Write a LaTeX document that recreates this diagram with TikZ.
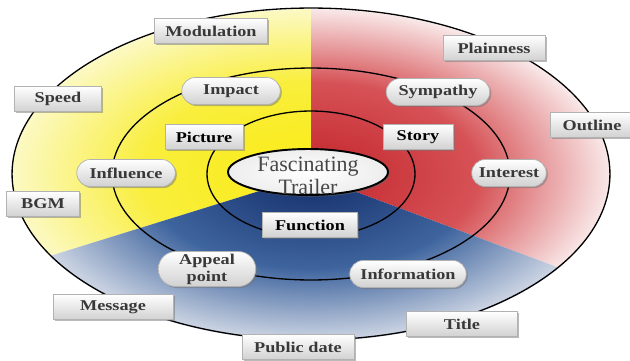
\documentclass[tikz,border=0pt]{standalone}
\usepackage{fontspec}
\setmainfont{Liberation Serif}
\newfontfamily\tagfont[FakeStretch=1.22]{Liberation Serif}
\usetikzlibrary{shapes.geometric,shapes.misc,shadows}

\definecolor{ylwIn}{RGB}{250,236,20}
\definecolor{ylwMid}{RGB}{249,238,60}
\definecolor{ylwOut}{RGB}{252,249,196}
\definecolor{redIn}{RGB}{194,36,42}
\definecolor{redMid}{RGB}{214,82,86}
\definecolor{redOut}{RGB}{249,232,232}
\definecolor{bluIn}{RGB}{18,44,104}
\definecolor{bluMid}{RGB}{62,100,158}
\definecolor{bluOut}{RGB}{206,214,228}

\pgfdeclareradialshading{ylwfade}{\pgfpoint{0bp}{0bp}}{color(0bp)=(ylwIn); color(14bp)=(ylwMid); color(25bp)=(ylwOut); color(50bp)=(ylwOut)}
\pgfdeclareradialshading{redfade}{\pgfpoint{0bp}{0bp}}{color(0bp)=(redIn); color(14bp)=(redMid); color(25bp)=(redOut); color(50bp)=(redOut)}
\pgfdeclareradialshading{blufade}{\pgfpoint{0bp}{0bp}}{color(0bp)=(bluIn); color(14bp)=(bluMid); color(25bp)=(bluOut); color(50bp)=(bluOut)}

\begin{document}
\begin{tikzpicture}[
    x=0.02cm, y=-0.02cm,
    ring/.style={draw=black, line width=0.75pt},
    box/.style={
        draw=black!30,
        top color=white,
        bottom color=black!18,
        minimum height=0.5cm,
        inner sep=1pt,
        text=black!78,
        font=\tagfont\bfseries\fontsize{8.5}{9.6}\selectfont,
        align=center,
        drop shadow={shadow xshift=0.9pt, shadow yshift=-0.9pt, fill=black!55, opacity=0.5}
    },
    pill/.style={box, rounded rectangle, minimum height=0.54cm},
    key/.style={box, text=black},
    hub/.style={
        ellipse,
        draw=black,
        line width=1.1pt,
        inner color=white,
        outer color=black!7,
        minimum width=3.2cm,
        minimum height=0.92cm,
        drop shadow={shadow xshift=1pt, shadow yshift=-1pt, fill=black!60, opacity=0.5}
    },
    hubtext/.style={
        align=center,
        inner sep=0pt,
        text=black!72,
        font=\fontsize{12.5}{13}\selectfont
    }
]
    \useasboundingbox (0,0) rectangle (630,360);
    \coordinate (c) at (311,175);

    \begin{scope}
        \clip (c) -- (311,-20) -- (-50,-20) -- (-50,287) -- cycle;
        \shade[shading=ylwfade] (c) ellipse [x radius=5.98cm, y radius=3.32cm];
    \end{scope}
    \begin{scope}
        \clip (c) -- (311,-20) -- (680,-20) -- (680,313) -- cycle;
        \shade[shading=redfade] (c) ellipse [x radius=5.98cm, y radius=3.32cm];
    \end{scope}
    \begin{scope}
        \clip (c) -- (-50,287) -- (-50,400) -- (680,400) -- (680,313) -- cycle;
        \shade[shading=blufade] (c) ellipse [x radius=5.98cm, y radius=3.32cm];
    \end{scope}

    \draw[ring] (311,174) ellipse [x radius=5.98cm, y radius=3.32cm];
    \draw[ring] (311,174) ellipse [x radius=3.98cm, y radius=2.12cm];
    \draw[ring] (311,174) ellipse [x radius=2.08cm, y radius=1.26cm];

    \node[box, minimum width=2.26cm] (modulation) at (211,31) {Modulation};
    \node[box, minimum width=1.74cm] (speed) at (58,99) {Speed};
    \node[box, minimum width=1.46cm] (bgm) at (43,204) {BGM};
    \node[box, minimum width=2.4cm] (message) at (113,307) {Message};
    \node[box, minimum width=2.24cm] (pubdate) at (298,347) {Public date};
    \node[box, minimum width=2.22cm] (title) at (462,324) {Title};
    \node[box, minimum width=2.04cm] (plainness) at (494,48) {Plainness};
    \node[box, minimum width=1.68cm] (outline) at (592,125) {Outline};

    \node[key, minimum width=1.56cm] (picture) at (204,137) {Picture};
    \node[key, minimum width=1.4cm] (story) at (418,137) {Story};
    \node[key, minimum width=1.9cm] (function) at (310,225) {Function};

    \node[pill, minimum width=2.04cm] (impact) at (231,91) {Impact};
    \node[pill, minimum width=2.14cm] (sympathy) at (438,92) {Sympathy};
    \node[pill, minimum width=2.04cm] (influence) at (126,173) {Influence};
    \node[pill, minimum width=1.56cm] (interest) at (509,173) {Interest};
    \node[pill, minimum width=2.02cm, minimum height=0.7cm] (appeal) at (207,269) {Appeal\\point};
    \node[pill, minimum width=2.4cm] (information) at (408,274) {Information};

    \node[hub] (trailer) at (308,172) {};
    \node[hubtext] (trailertext) at (308,176) {Fascinating\\Trailer};
\end{tikzpicture}
\end{document}
